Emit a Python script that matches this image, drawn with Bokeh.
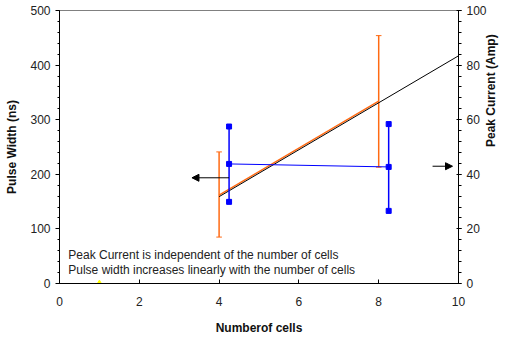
import math
from bokeh.plotting import figure
from bokeh.models import (Range1d, LinearAxis, SingleIntervalTicker, FixedTicker,
                          Label, Arrow, NormalHead)
from bokeh.embed import file_html
from bokeh.resources import INLINE
import numpy as np

# ---- data ----
cells_pw = [4, 8]
pulse_width = [162, 334]
pw_low = [85, 213]
pw_high = [241, 454]

cells_pc = [4.25, 8.25]
peak_current = [43.8, 42.7]
pc_low = [29.9, 26.6]
pc_high = [57.5, 58.4]

marker_x = [1]
marker_y = [0]

trend_x = [4, 10]

arrow_left = dict(x_start=4.25, x_end=3.32, y=193.6)
arrow_right = dict(x_start=9.35, x_end=9.85, y=214.8)

notes = ["Peak Current is independent of the number of cells",
         "Pulse width increases linearly with the number of cells"]
note_y = [53, 24]

x_ticks = [0, 2, 4, 6, 8, 10]

x_title = "Numberof cells"
y_title = "Pulse Width (ns)"
y2_title = "Peak Current (Amp)"

FONT = "Liberation Sans"
ORANGE = "#FF6A13"
BLUE = "#0000FF"

p = figure(width=507, height=339, output_backend="svg", toolbar_location=None,
           x_range=Range1d(0, 10), y_range=Range1d(0, 500),
           min_border_left=59, min_border_right=48, min_border_top=10,
           min_border_bottom=56)
p.extra_y_ranges = {"pc": Range1d(0, 100)}
p.xgrid.visible = False
p.ygrid.visible = False
p.outline_line_color = "#808080"
p.outline_line_width = 1
p.background_fill_color = "white"
p.border_fill_color = "white"

# x axis
xa = p.xaxis[0]
xa.ticker = FixedTicker(ticks=x_ticks)
xa.major_tick_in = 4
xa.major_tick_out = 0
xa.major_label_standoff = 13
xa.axis_label = x_title
xa.axis_label_standoff = 12

# left axis
ya = p.yaxis[0]
ya.ticker = SingleIntervalTicker(interval=100, num_minor_ticks=5)
ya.major_tick_in = 0
ya.major_tick_out = 4
ya.minor_tick_in = 0
ya.minor_tick_out = 2
ya.major_label_standoff = 5
ya.axis_label = y_title
ya.axis_label_standoff = 8

# right axis
ra = LinearAxis(y_range_name="pc",
                ticker=SingleIntervalTicker(interval=20, num_minor_ticks=5))
ra.major_tick_in = 2
ra.major_tick_out = 3
ra.minor_tick_in = 0
ra.minor_tick_out = 3
ra.major_label_standoff = 5
ra.axis_label = y2_title
ra.axis_label_standoff = 1
ra.axis_label_orientation = math.pi / 2
p.add_layout(ra, "right")

for ax in [xa, ya, ra]:
    ax.axis_line_color = "black"
    ax.major_tick_line_color = "black"
    ax.minor_tick_line_color = "black" if ax is not xa else None
    ax.major_label_text_font = FONT
    ax.major_label_text_font_size = "12px"
    ax.major_label_text_color = "#222222"
    ax.axis_label_text_font = FONT
    ax.axis_label_text_font_size = "12px"
    ax.axis_label_text_font_style = "bold"
    ax.axis_label_text_color = "#111111"

# pulse width series (orange)
p.line(cells_pw, pulse_width, line_color=ORANGE, line_width=1.5)
p.segment(x0=cells_pw, y0=pw_low, x1=cells_pw, y1=pw_high, line_color=ORANGE, line_width=1.5)
cap = 0.07
p.segment(x0=[c - cap for c in cells_pw], y0=pw_low, x1=[c + cap for c in cells_pw], y1=pw_low,
          line_color=ORANGE, line_width=1)
p.segment(x0=[c - cap for c in cells_pw], y0=pw_high, x1=[c + cap for c in cells_pw], y1=pw_high,
          line_color=ORANGE, line_width=1)

# trend line (linear fit of pulse width)
coef = np.polyfit(cells_pw, pulse_width, 1)
p.line(trend_x, list(np.polyval(coef, trend_x) - 3), line_color="black", line_width=1)

# peak current series (blue)
p.line(cells_pc, peak_current, line_color=BLUE, line_width=1, y_range_name="pc")
p.segment(x0=cells_pc, y0=pc_low, x1=cells_pc, y1=pc_high, line_color=BLUE, line_width=1.5,
          y_range_name="pc")
p.scatter(cells_pc + cells_pc + cells_pc, peak_current + pc_low + pc_high, marker="square",
          size=5, fill_color=BLUE, line_color=BLUE, y_range_name="pc")

# yellow marker
p.scatter(marker_x, marker_y, marker="triangle", size=6, fill_color="#FFFF00",
          line_color="#FFFF00")

# arrows
for a in [arrow_left, arrow_right]:
    p.add_layout(Arrow(end=NormalHead(size=7, fill_color="black", line_color="black"),
                       x_start=a["x_start"], y_start=a["y"], x_end=a["x_end"], y_end=a["y"],
                       line_color="black", line_width=1))

# notes
for t, yy in zip(notes, note_y):
    p.add_layout(Label(x=0.22, y=yy, text=t, text_font=FONT, text_font_size="12px",
                       text_color="#222222", text_baseline="middle"))

open("out.html", "w").write(file_html(p, INLINE))
